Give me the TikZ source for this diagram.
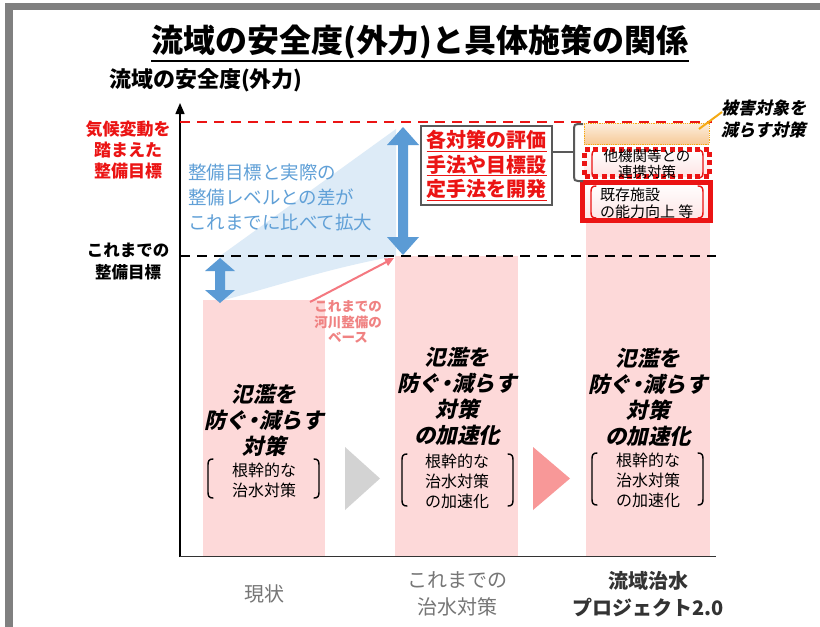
\documentclass[tikz,border=0pt]{standalone}
\usepackage{fontspec}
\setmainfont{Noto Sans CJK JP}
\newfontfamily\jpit{Noto Sans CJK JP}[FakeSlant=0.22]
\usetikzlibrary{arrows.meta,calc}
\definecolor{barpink}{RGB}{253,217,217}
\definecolor{arrblue}{RGB}{91,155,213}
\definecolor{lblue}{RGB}{221,235,247}
\definecolor{txtblue}{RGB}{96,160,215}
\definecolor{redc}{RGB}{235,20,20}
\definecolor{salmon}{RGB}{244,120,128}
\definecolor{salmontxt}{RGB}{240,130,130}
\definecolor{tripink}{RGB}{248,152,152}
\definecolor{trigray}{RGB}{211,211,211}
\definecolor{framegray}{RGB}{128,128,128}
\definecolor{boxgray}{RGB}{89,89,89}
\definecolor{orangec}{RGB}{245,170,20}
\definecolor{otop}{RGB}{252,238,222}
\definecolor{obot}{RGB}{247,202,152}
\definecolor{labgray}{RGB}{118,118,118}
\newcommand{\myDblArrow}[6]{%
  \fill[arrblue] (#1,#2) -- (#1+#4,#2+#5) -- (#1+#6,#2+#5) -- (#1+#6,#3-#5) -- (#1+#4,#3-#5) -- (#1,#3)
    -- (#1-#4,#3-#5) -- (#1-#6,#3-#5) -- (#1-#6,#2+#5) -- (#1-#4,#2+#5) -- cycle;}
\newcommand{\myLBrk}[4][black]{%
  \draw[brk,#1] (#2+5,#3) .. controls (#2+1,#3) and (#2,#3+2) .. (#2,#3+6) -- (#2,#4-6) .. controls (#2,#4-2) and (#2+1,#4) .. (#2+5,#4);}
\newcommand{\myRBrk}[4][black]{%
  \draw[brk,#1] (#2-5,#3) .. controls (#2-1,#3) and (#2,#3+2) .. (#2,#3+6) -- (#2,#4-6) .. controls (#2,#4-2) and (#2-1,#4) .. (#2-5,#4);}
\newcommand{\myDot}{\kern-0.22em・\kern-0.22em}
\begin{document}
\begin{tikzpicture}[x=1pt,y=-1pt,
  every node/.style={inner sep=0pt,outer sep=0pt},
  bartitle/.style={align=center,font=\jpit\bfseries\fontsize{21.5}{26}\selectfont},
  bracktxt/.style={align=center,font=\fontsize{16}{20}\selectfont},
  botlab/.style={align=center,font=\fontsize{20}{27}\selectfont},
  brk/.style={line width=1.4pt,line cap=round},
  dashline/.style={line width=2pt,dash pattern=on 10pt off 7pt},
]
\useasboundingbox (0,0) rectangle (820,627);
\fill[white] (0,0) rectangle (820,627);
% frame
\fill[framegray] (5,3) rectangle (820,10);
\fill[framegray] (5,3) rectangle (13,627);
% title
\node (title) at (420,42) {\fontsize{32}{32}\selectfont\bfseries 流域の安全度(外力)と具体施策の関係};
\draw[line width=2pt] (title.west |- 0,61) -- (title.east |- 0,61);
\node (ylab) at (206,80) {\fontsize{22}{22}\selectfont\bfseries 流域の安全度(外力)};
% light blue gap region
\fill[lblue] (220,256) -- (396,129) -- (396,256) .. controls (330,268) and (280,285) .. (224,300) -- cycle;
% bars
\fill[barpink] (203,300) rectangle (325,556);
\fill[barpink] (395,256) rectangle (518,556);
\fill[barpink] (586,223) rectangle (710,556);
% axes
\draw[line width=1.5pt,-{Triangle[length=11pt,width=9pt]}] (180,557) -- (180,103);
\draw[line width=1pt,black!80] (180,556) -- (716,556);
% dashed levels
\draw[dashline,redc] (180,122) -- (712,122);
\draw[dashline,black] (180,255.5) -- (716,255.5);
% level labels
\node[align=center,text=redc,font=\bfseries\fontsize{17}{21}\selectfont] (lvlnew) at (128,150) {気候変動を\\踏まえた\\整備目標};
\node[align=center,font=\bfseries\fontsize{16.5}{22}\selectfont] (lvlold) at (128,262) {これまでの\\整備目標};
% blue text
\node[align=left,anchor=west,text=txtblue,font=\fontsize{18.5}{25}\selectfont] (gaptxt) at (188,197) {整備目標と実際の\\整備レベルとの差が\\これまでに比べて拡大};
% blue double arrows
\coordinate (sa) at (220,280);
\coordinate (ba) at (403,191);
\myDblArrow{220}{258}{303}{15}{13}{5}
\myDblArrow{403}{127}{255}{16}{18}{5}
% pink pointer
\node[align=center,text=salmontxt,font=\bfseries\fontsize{13.5}{15.5}\selectfont] (basetxt) at (348,322) {これまでの\\河川整備の\\ベース};
\coordinate (pstart) at (310,302);
\coordinate (pend) at (394,258);
\draw[salmon,line width=2pt,-{Triangle[length=9pt,width=8pt]}] (pstart) -- (pend);
% progression triangles
\fill[trigray] (345,447) -- (380,478.5) -- (345,510) -- cycle;
\fill[tripink] (533,447) -- (570,478.5) -- (533,510) -- cycle;
% bar 1 texts
\node[bartitle] (b1t) at (264,420) {氾濫を\\防ぐ\myDot 減らす\\対策};
\node[bracktxt] (b1s) at (264,480) {根幹的な\\治水対策};
\myLBrk{208}{459}{498}
\myRBrk{319}{459}{498}
% bar 2 texts
\node[bartitle] (b2t) at (457,396) {氾濫を\\防ぐ\myDot 減らす\\対策\\の加速化};
\node[bracktxt] (b2s) at (457,481) {根幹的な\\治水対策\\の加速化};
\myLBrk{402}{454}{506}
\myRBrk{513}{454}{506}
% bar 3 texts
\node[bartitle] (b3t) at (648,397) {氾濫を\\防ぐ\myDot 減らす\\対策\\の加速化};
\node[bracktxt] (b3s) at (648,480) {根幹的な\\治水対策\\の加速化};
\myLBrk{592}{453}{505}
\myRBrk{703}{453}{505}
% top of bar 3: stacked measures
\node[draw=orangec,densely dotted,line width=0.8pt,top color=otop,bottom color=obot,minimum width=125,minimum height=21] (obox) at (646.5,133.5) {};
\node[draw=redc,line width=5pt,dash pattern=on 5pt off 3.5pt,top color=white,bottom color=barpink!70,minimum width=125,minimum height=27] (dbox) at (647,162.5) {};
\node[align=center,font=\fontsize{14.5}{15.5}\selectfont] (dtxt) at (647,164) {他機関等との\\連携対策};
\myLBrk[redc]{592}{150}{178}
\myRBrk[redc]{703}{150}{178}
\node[draw=redc,line width=5pt,top color=white,bottom color=barpink!70,minimum width=128,minimum height=38] (rbox) at (646.5,201.5) {};
\node[align=left,anchor=west,font=\fontsize{15}{17}\selectfont] (rtxt) at (600,203.5) {既存施設\\の能力向上 等};
\myLBrk[redc]{591}{186}{218}
\myRBrk[redc]{703}{186}{218}
% leader and label for damage-target measures
\coordinate (lstart) at (699,129);
\coordinate (lend) at (722,112);
\draw[orangec,line width=2pt] (lstart) -- (lend);
\node[align=left,anchor=west,font=\jpit\bfseries\fontsize{17}{22}\selectfont] (dmgtxt) at (721,119) {被害対象を\\減らす対策};
% evaluation box
\node[draw=boxgray,line width=2pt,fill=white,minimum width=131,minimum height=79,align=center,text=redc,font=\bfseries\fontsize{20}{24.5}\selectfont] (gbox) at (486.5,165.5) {\underline{各対策の評価}\\\underline{手法や目標設}\\\underline{定手法を開発}};
\coordinate (bmid) at (574,152);
\draw[boxgray,line width=2pt] (gbox.east |- bmid) -- (bmid);
\draw[boxgray,line width=2pt] (583,124) -- (578,124) .. controls (575,124) and (574,125) .. (574,128) -- (574,177) .. controls (574,180) and (575,181) .. (578,181) -- (583,181);
% bottom labels
\node[botlab,text=labgray] (l1) at (264,594) {現状};
\node[botlab,text=labgray] (l2) at (457,594) {これまでの\\治水対策};
\node[botlab,text=black!80,font=\bfseries\fontsize{20}{27}\selectfont] (l3) at (648,594) {流域治水\\プロジェクト2.0};
\end{tikzpicture}
\end{document}
